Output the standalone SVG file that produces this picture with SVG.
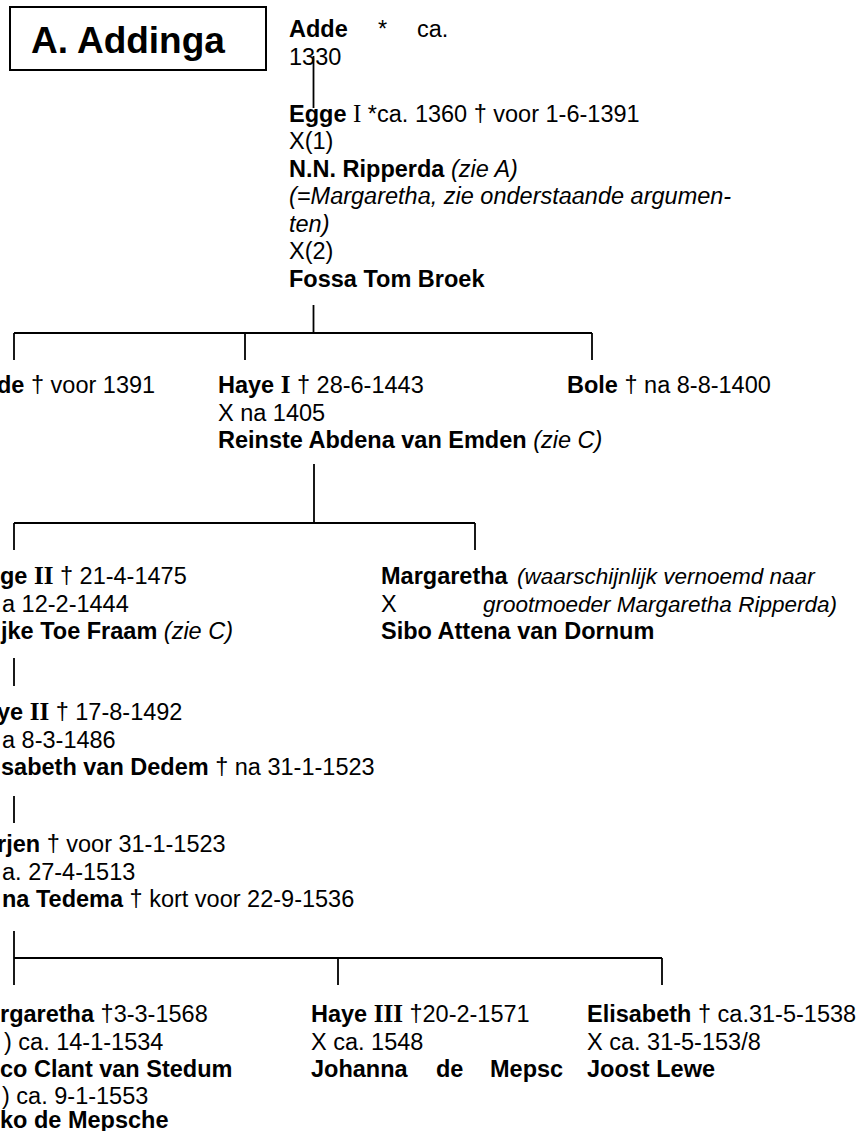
<svg xmlns="http://www.w3.org/2000/svg" width="867" height="1131" viewBox="0 0 867 1131">
<style>
text{font-family:"Liberation Sans",Arial,sans-serif;font-size:23.5px;fill:#000}
.b{font-weight:bold}
.i{font-style:italic}
.r{font-family:"Liberation Serif","Times New Roman",serif;font-size:25px}
.n{font-size:22.5px;font-style:italic}
.t{font-size:37px;font-weight:bold}
#connectors line{stroke:#000;stroke-width:1.8}
</style>
<rect width="867" height="1131" fill="#fff"/>
<g id="connectors">
<line x1="313.5" y1="56" x2="313.5" y2="108"/>
<line x1="313.5" y1="305" x2="313.5" y2="333"/>
<line x1="14" y1="333" x2="592" y2="333"/>
<line x1="14" y1="333" x2="14" y2="360"/>
<line x1="245" y1="333" x2="245" y2="360"/>
<line x1="592" y1="333" x2="592" y2="360"/>
<line x1="314" y1="464" x2="314" y2="523"/>
<line x1="14" y1="523" x2="475" y2="523"/>
<line x1="14" y1="523" x2="14" y2="550"/>
<line x1="475" y1="523" x2="475" y2="550"/>
<line x1="14" y1="658" x2="14" y2="686"/>
<line x1="14" y1="796" x2="14" y2="823"/>
<line x1="14" y1="931" x2="14" y2="958"/>
<line x1="14" y1="958" x2="662" y2="958"/>
<line x1="14" y1="958" x2="14" y2="985"/>
<line x1="338" y1="958" x2="338" y2="985"/>
<line x1="662" y1="958" x2="662" y2="985"/>
</g>
<g id="title">
<rect x="10" y="7" width="256" height="63" fill="none" stroke="#000" stroke-width="2"/>
<text class="t" x="31" y="52.5">A. Addinga</text>
</g>
<g id="adde">
<text class="b" x="289" y="37">Adde</text>
<text x="378" y="37">*</text>
<text x="417" y="37">ca.</text>
<text x="289" y="65">1330</text>
</g>
<g id="egge1">
<text x="289" y="121.5"><tspan class="b">Egge</tspan> <tspan class="r">I</tspan> *ca. 1360 † voor 1-6-1391</text>
<text x="289" y="149">X(1)</text>
<text x="289" y="176.5"><tspan class="b">N.N. Ripperda</tspan> <tspan class="i">(zie A)</tspan></text>
<text class="i" x="289" y="204">(=Margaretha, zie onderstaande argumen-</text>
<text class="i" x="289" y="231.5">ten)</text>
<text x="289" y="259">X(2)</text>
<text class="b" x="289" y="287">Fossa Tom Broek</text>
</g>
<g id="adde2">
<text x="-3" y="393"><tspan class="b">de</tspan> † voor 1391</text>
</g>
<g id="haye1">
<text x="218" y="393"><tspan class="b">Haye <tspan class="r">I</tspan></tspan> † 28-6-1443</text>
<text x="218" y="420.5">X na 1405</text>
<text x="218" y="448"><tspan class="b">Reinste Abdena van Emden</tspan> <tspan class="i">(zie C)</tspan></text>
</g>
<g id="bole">
<text x="567" y="393"><tspan class="b">Bole</tspan> † na 8-8-1400</text>
</g>
<g id="egge2">
<text x="0" y="584"><tspan class="b">ge <tspan class="r">II</tspan></tspan> † 21-4-1475</text>
<text x="2" y="612">a 12-2-1444</text>
<text x="1" y="639"><tspan class="b">jke Toe Fraam</tspan> <tspan class="i">(zie C)</tspan></text>
</g>
<g id="margaretha1">
<text class="b" x="381" y="584">Margaretha</text>
<text class="n" x="517" y="584">(waarschijnlijk vernoemd naar</text>
<text x="381" y="612">X</text>
<text class="n" x="483" y="612">grootmoeder Margaretha Ripperda)</text>
<text class="b" x="381" y="639">Sibo Attena van Dornum</text>
</g>
<g id="haye2">
<text x="-3" y="720"><tspan class="b">ye <tspan class="r">II</tspan></tspan> † 17-8-1492</text>
<text x="2" y="747.5">a 8-3-1486</text>
<text x="1" y="775"><tspan class="b">sabeth van Dedem</tspan> † na 31-1-1523</text>
</g>
<g id="sjaerjen">
<text x="-3" y="852"><tspan class="b">rjen</tspan> † voor 31-1-1523</text>
<text x="2" y="880">a. 27-4-1513</text>
<text x="2" y="907"><tspan class="b">na Tedema</tspan> † kort voor 22-9-1536</text>
</g>
<g id="margaretha2">
<text x="0" y="1022"><tspan class="b">rgaretha</tspan> †3-3-1568</text>
<text x="4" y="1050">) ca. 14-1-1534</text>
<text class="b" x="0" y="1077">co Clant van Stedum</text>
<text x="2" y="1104">) ca. 9-1-1553</text>
<text class="b" x="0" y="1128">ko de Mepsche</text>
</g>
<g id="haye3">
<text x="311" y="1022"><tspan class="b">Haye <tspan class="r">III</tspan></tspan> †20-2-1571</text>
<text x="311" y="1050">X ca. 1548</text>
<text class="b" x="311" y="1077">Johanna</text>
<text class="b" x="436" y="1077">de</text>
<text class="b" x="490" y="1077">Mepsc</text>
</g>
<g id="elisabeth">
<text x="587" y="1022"><tspan class="b">Elisabeth</tspan> † ca.31-5-1538</text>
<text x="587" y="1050">X ca. 31-5-153/8</text>
<text class="b" x="587" y="1077">Joost Lewe</text>
</g>
</svg>
